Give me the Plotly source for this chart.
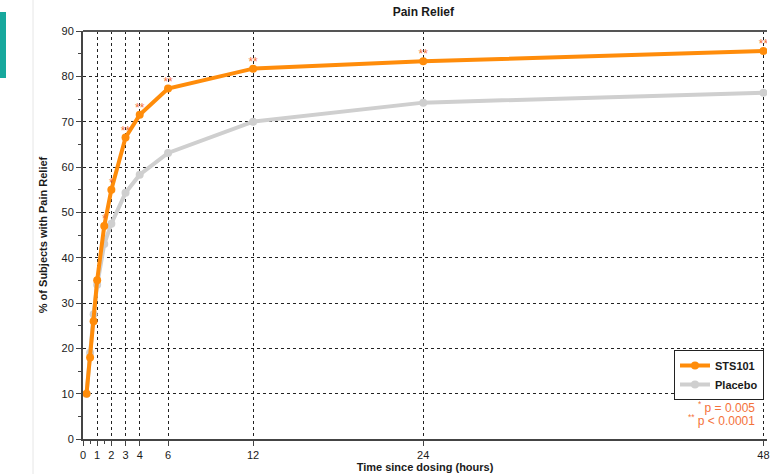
import plotly.graph_objects as go

# ---- data ----
hours = [0.25, 0.5, 0.75, 1, 1.5, 2, 3, 4, 6, 12, 24, 48]
sts101 = [10, 18, 26, 35, 47, 55, 66.5, 71.5, 77.3, 81.7, 83.3, 85.6]
placebo = [10, 19, 27.5, 34, 43, 47.5, 54.3, 58.3, 63.1, 70, 74.2, 76.4]
sig_marks = ["", "", "", "", "*", "*", "**", "**", "**", "**", "**", "**"]
x_ticks = [0, 1, 2, 3, 4, 6, 12, 24, 48]
x_minor = [0.5, 1.5]
y_ticks = [0, 10, 20, 30, 40, 50, 60, 70, 80, 90]

ORANGE = "#ff8c0a"
GREY = "#cfcfcf"
SIG = "#f4713a"
FONT = "Liberation Sans, Arial, sans-serif"
TXT = "#1a1a1a"

sig_idx = [i for i, m in enumerate(sig_marks) if m]

fig = go.Figure()
fig.add_trace(go.Scatter(
    x=hours, y=placebo, name="<b>Placebo</b>", mode="lines+markers",
    line=dict(color=GREY, width=4), marker=dict(color=GREY, size=8),
))
fig.add_trace(go.Scatter(
    x=hours, y=sts101, name="<b>STS101</b>", mode="lines+markers",
    line=dict(color=ORANGE, width=4), marker=dict(color=ORANGE, size=8),
))
fig.add_trace(go.Scatter(
    x=[hours[i] for i in sig_idx], y=[sts101[i] for i in sig_idx],
    mode="text", text=[sig_marks[i] for i in sig_idx], textposition="top center",
    textfont=dict(color=SIG, size=12, family=FONT), showlegend=False, hoverinfo="skip",
))

PW = 774 - 83 - 7
PH = 474 - 31 - 35

fig.update_layout(
    width=774, height=474,
    margin=dict(l=83, r=7, t=31, b=35, autoexpand=False),
    paper_bgcolor="white", plot_bgcolor="white",
    font=dict(family=FONT, color=TXT, size=11),
    title=dict(text="<b>Pain Relief</b>", x=0.547, xanchor="center", y=0.975, yanchor="middle",
               font=dict(size=12, color=TXT)),
    legend=dict(x=0.9956, xanchor="right", y=(439-350)/PH, yanchor="top",
                bordercolor="#222", borderwidth=1, bgcolor="white",
                font=dict(size=11, color=TXT), traceorder="reversed",
                itemwidth=30, tracegroupgap=0),
    showlegend=True,
)
fig.update_xaxes(
    range=[0, 48.25], tickmode="array", tickvals=x_ticks, ticktext=[str(v) for v in x_ticks],
    showline=True, linecolor="#444", linewidth=2,
    ticks="outside", ticklen=5, tickcolor="#444",
    showgrid=True, gridcolor="#222", griddash="dot", gridwidth=1,
    minor=dict(tickmode="array", tickvals=x_minor, ticks="outside", ticklen=3, tickcolor="#444", showgrid=False),
    zeroline=False, automargin=False,
    tickfont=dict(size=11, color=TXT),
    title=dict(text="<b>Time since dosing (hours)</b>", font=dict(size=11, color=TXT), standoff=2),
)
fig.update_yaxes(
    range=[0, 90], tickmode="array", tickvals=y_ticks,
    showline=True, linecolor="#444", linewidth=2, mirror=False,
    ticks="outside", ticklen=5, tickcolor="#444",
    showgrid=True, gridcolor="#222", griddash="dot", gridwidth=1,
    minor=dict(dtick=5, ticks="outside", ticklen=3, tickcolor="#444", showgrid=False),
    zeroline=False, automargin=False,
    tickfont=dict(size=11, color=TXT),
    title=dict(text="<b>% of Subjects with Pain Relief</b>", font=dict(size=11, color=TXT), standoff=12),
)

# top border line
fig.add_shape(type="line", xref="paper", yref="paper", x0=0, x1=1, y0=1, y1=1,
              line=dict(color="#555", width=2))
# decorative page elements
fig.add_shape(type="rect", xref="paper", yref="paper",
              x0=-83/PW, x1=-77/PW, y0=(439-78)/PH, y1=(439-12)/PH,
              fillcolor="#17a89d", line=dict(width=0))
fig.add_shape(type="line", xref="paper", yref="paper",
              x0=-50/PW, x1=-50/PW, y0=-35/PH, y1=439/PH,
              line=dict(color="#e6e6e6", width=1))

fig.add_annotation(
    xref="paper", yref="paper", x=(757-83)/PW, y=(439-407)/PH, xanchor="right", yanchor="middle",
    text="<sup>*</sup> p = 0.005", align="right", showarrow=False,
    font=dict(size=12, color=SIG, family=FONT),
)
fig.add_annotation(
    xref="paper", yref="paper", x=(757-83)/PW, y=(439-420)/PH, xanchor="right", yanchor="middle",
    text="<sup>**</sup> p &lt; 0.0001", align="right", showarrow=False,
    font=dict(size=12, color=SIG, family=FONT),
)

fig.write_html("out.html", config={"displayModeBar": False},
               post_script="document.body.style.margin='0';")
